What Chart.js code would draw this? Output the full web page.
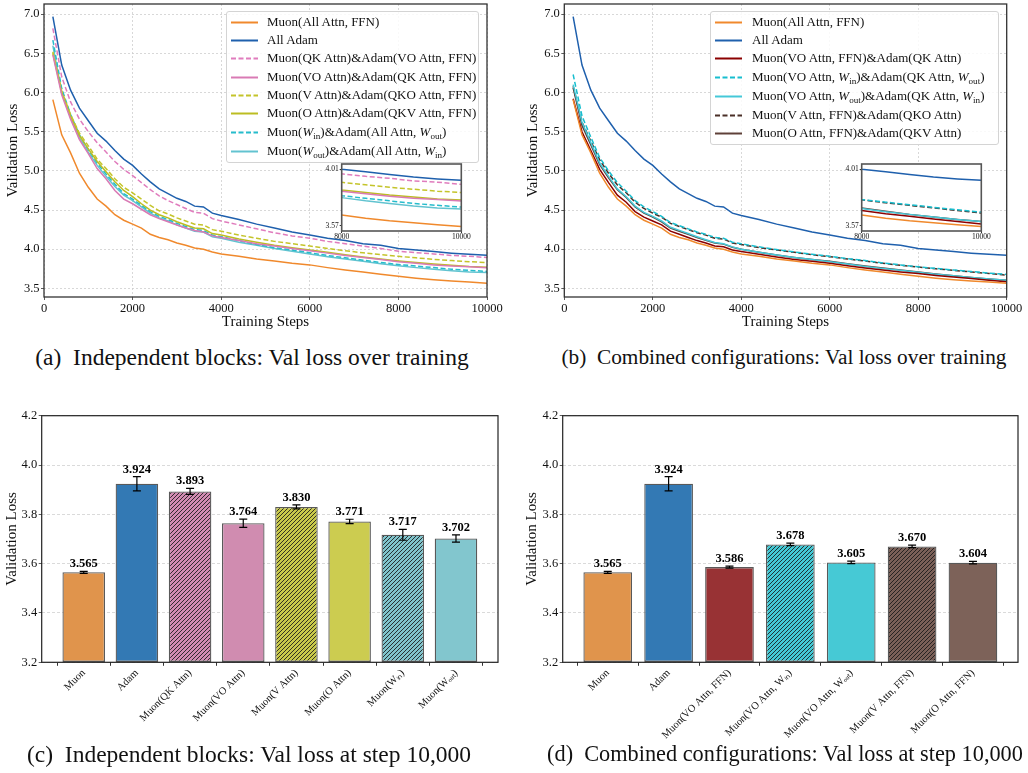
<!DOCTYPE html>
<html>
<head>
<meta charset="utf-8">
<script src="https://cdn.jsdelivr.net/npm/chart.js@4.4.1/dist/chart.umd.min.js"></script>
<style>
  body { margin: 0; background: #fff; width: 1028px; height: 773px; position: relative; overflow: hidden;
         font-family: 'Liberation Serif', 'Times New Roman', serif; color: #111; }
  canvas { position: absolute; }
  .legend { position: absolute; border: 1px solid #d4d4d4; border-radius: 3px; background: rgba(255,255,255,0.85); box-sizing: border-box; }
  .legend .row { position: absolute; left: 0; height: 18px; line-height: 18px; font-size: 13px; white-space: nowrap; }
  .legend svg { position: absolute; top: 8px; }
  .legend .txt { position: absolute; top: 0; }
  .cap { position: absolute; font-size: 23.5px; white-space: nowrap; transform: translate(-50%, -50%); }
  sub { font-size: 70%; vertical-align: -3px; line-height: 0; }
</style>
</head>
<body>
<canvas id="chartA" width="514" height="340" style="left:0;top:0"></canvas>
<canvas id="insetA" width="164" height="90" style="left:314px;top:156px"></canvas>
<div class="legend" id="legendA" style="left:226px;top:11px;width:253px;height:152px"></div>

<canvas id="chartB" width="510" height="340" style="left:518px;top:0"></canvas>
<canvas id="insetB" width="164" height="90" style="left:834px;top:156px"></canvas>
<div class="legend" id="legendB" style="left:710px;top:11px;width:289px;height:134px"></div>

<canvas id="chartC" width="514" height="373" style="left:0;top:400px"></canvas>
<canvas id="chartD" width="510" height="373" style="left:518px;top:400px"></canvas>

<div class="cap" style="left:252px;top:357px">(a)&nbsp; Independent blocks: Val loss over training</div>
<div class="cap" style="left:784px;top:357px;font-size:21.3px">(b)&nbsp; Combined configurations: Val loss over training</div>
<div class="cap" style="left:249px;top:754px">(c)&nbsp; Independent blocks: Val loss at step 10,000</div>
<div class="cap" style="left:785px;top:754px;font-size:22.3px">(d)&nbsp; Combined configurations: Val loss at step 10,000</div>

<script>
// training steps where validation loss was logged
const steps = [200, 400, 600, 800, 1000, 1200, 1400, 1600, 1800, 2000, 2200, 2400, 2600, 2800, 3000, 3200, 3400, 3600, 3800, 4000,
  4400, 4800, 5200, 5600, 6000, 6400, 6800, 7200, 7600, 8000, 8400, 8800, 9200, 9600, 10000];
const stepTicks = [0, 2000, 4000, 6000, 8000, 10000];
const lossTicks = [3.5, 4.0, 4.5, 5.0, 5.5, 6.0, 6.5, 7.0];
const insetStepTicks = [8000, 10000];
const insetLossTicks = [3.57, 4.01];

// (a) and (b) shared curves
const muonAll = [5.91, 5.46, 5.23, 4.97, 4.79, 4.64, 4.55, 4.44, 4.37, 4.32, 4.27, 4.19, 4.15, 4.12, 4.08, 4.05, 4.015, 4.00, 3.965, 3.94,
  3.91, 3.875, 3.85, 3.82, 3.80, 3.765, 3.735, 3.71, 3.68, 3.655, 3.63, 3.61, 3.595, 3.58, 3.565];
const allAdam = [6.97, 6.35, 6.03, 5.80, 5.64, 5.48, 5.38, 5.26, 5.15, 5.07, 4.96, 4.86, 4.77, 4.71, 4.65, 4.61, 4.55, 4.54, 4.46, 4.43,
  4.38, 4.32, 4.27, 4.22, 4.18, 4.14, 4.11, 4.07, 4.05, 4.01, 3.99, 3.97, 3.95, 3.935, 3.924];

// (a) independent blocks
const muonQK = [6.82, 6.20, 5.88, 5.66, 5.50, 5.36, 5.24, 5.12, 5.02, 4.94, 4.85, 4.76, 4.68, 4.62, 4.57, 4.52, 4.47, 4.46, 4.39, 4.36,
  4.31, 4.26, 4.21, 4.17, 4.14, 4.10, 4.07, 4.04, 4.01, 3.975, 3.955, 3.94, 3.92, 3.91, 3.893];
const muonVO = [6.48, 5.97, 5.66, 5.40, 5.22, 5.03, 4.90, 4.75, 4.64, 4.58, 4.51, 4.44, 4.39, 4.35, 4.31, 4.27, 4.24, 4.22, 4.17, 4.15,
  4.11, 4.07, 4.04, 4.01, 3.98, 3.95, 3.92, 3.895, 3.87, 3.84, 3.82, 3.80, 3.785, 3.775, 3.764];
const muonV = [6.52, 6.02, 5.72, 5.48, 5.32, 5.15, 5.03, 4.90, 4.79, 4.72, 4.64, 4.56, 4.49, 4.45, 4.40, 4.36, 4.32, 4.31, 4.25, 4.23,
  4.18, 4.14, 4.10, 4.07, 4.04, 4.01, 3.98, 3.955, 3.93, 3.909, 3.89, 3.87, 3.855, 3.84, 3.830];
const muonO = [6.50, 6.00, 5.70, 5.45, 5.28, 5.12, 4.99, 4.86, 4.75, 4.67, 4.58, 4.50, 4.44, 4.40, 4.35, 4.31, 4.27, 4.26, 4.20, 4.18,
  4.13, 4.09, 4.05, 4.02, 3.99, 3.96, 3.93, 3.90, 3.875, 3.85, 3.83, 3.81, 3.795, 3.78, 3.771];
const muonWin = [6.67, 6.05, 5.72, 5.46, 5.27, 5.10, 4.96, 4.83, 4.71, 4.64, 4.56, 4.48, 4.42, 4.38, 4.33, 4.29, 4.25, 4.24, 4.18, 4.16,
  4.11, 4.06, 4.02, 3.99, 3.955, 3.92, 3.89, 3.86, 3.83, 3.805, 3.785, 3.765, 3.745, 3.73, 3.717];
const muonWout = [6.60, 6.00, 5.68, 5.42, 5.24, 5.07, 4.93, 4.80, 4.69, 4.62, 4.54, 4.46, 4.40, 4.36, 4.31, 4.27, 4.23, 4.22, 4.16, 4.14,
  4.09, 4.05, 4.01, 3.975, 3.94, 3.905, 3.875, 3.845, 3.815, 3.79, 3.765, 3.745, 3.725, 3.71, 3.702];

// (b) combined configurations
const muonVOFFN = [5.92, 5.50, 5.26, 5.02, 4.85, 4.69, 4.60, 4.48, 4.41, 4.36, 4.31, 4.23, 4.19, 4.15, 4.11, 4.08, 4.04, 4.03, 3.99, 3.97,
  3.935, 3.90, 3.87, 3.845, 3.82, 3.79, 3.76, 3.735, 3.71, 3.69, 3.665, 3.645, 3.625, 3.605, 3.586];
const muonVOWin = [6.23, 5.70, 5.43, 5.17, 5.00, 4.85, 4.74, 4.62, 4.54, 4.48, 4.42, 4.34, 4.30, 4.26, 4.22, 4.19, 4.15, 4.14, 4.09, 4.07,
  4.03, 3.995, 3.965, 3.935, 3.91, 3.88, 3.855, 3.825, 3.80, 3.775, 3.755, 3.735, 3.715, 3.695, 3.678];
const muonVOWout = [6.10, 5.62, 5.36, 5.10, 4.93, 4.77, 4.67, 4.55, 4.47, 4.42, 4.36, 4.28, 4.24, 4.20, 4.16, 4.12, 4.085, 4.07, 4.03, 4.00,
  3.96, 3.925, 3.895, 3.87, 3.84, 3.81, 3.78, 3.755, 3.73, 3.705, 3.68, 3.66, 3.64, 3.62, 3.605];
const muonVFFN = [6.08, 5.62, 5.38, 5.14, 4.97, 4.82, 4.72, 4.60, 4.52, 4.46, 4.41, 4.33, 4.29, 4.25, 4.21, 4.18, 4.14, 4.13, 4.08, 4.06,
  4.02, 3.99, 3.96, 3.93, 3.905, 3.875, 3.85, 3.82, 3.795, 3.773, 3.75, 3.73, 3.71, 3.69, 3.670];
const muonOFFN = [6.06, 5.58, 5.33, 5.08, 4.91, 4.76, 4.66, 4.54, 4.46, 4.41, 4.35, 4.27, 4.23, 4.19, 4.15, 4.115, 4.08, 4.065, 4.025, 4.00,
  3.96, 3.925, 3.895, 3.87, 3.845, 3.815, 3.785, 3.76, 3.735, 3.71, 3.685, 3.66, 3.64, 3.62, 3.604];

// (c) final loss, independent blocks
const barNamesC = ['Muon', 'Adam', 'Muon(QK Attn)', 'Muon(VO Attn)', 'Muon(V Attn)', 'Muon(O Attn)', 'Muon(Wᵢₙ)', 'Muon(Wₒᵤₜ)'];
const barLossC = [3.565, 3.924, 3.893, 3.764, 3.830, 3.771, 3.717, 3.702];
const barErrC = [0.004, 0.029, 0.012, 0.017, 0.008, 0.009, 0.022, 0.015];

// (d) final loss, combined configurations
const barNamesD = ['Muon', 'Adam', 'Muon(VO Attn, FFN)', 'Muon(VO Attn, Wᵢₙ)', 'Muon(VO Attn, Wₒᵤₜ)', 'Muon(V Attn, FFN)', 'Muon(O Attn, FFN)'];
const barLossD = [3.565, 3.924, 3.586, 3.678, 3.605, 3.670, 3.604];
const barErrD = [0.004, 0.029, 0.004, 0.005, 0.005, 0.005, 0.005];

const barTicks = [3.2, 3.4, 3.6, 3.8, 4.0, 4.2];

const SERIF = "'Liberation Serif', 'Times New Roman', serif";
const DASH = [5, 2.5];

const seriesA = [
  { label: 'Muon(All Attn, FFN)', html: 'Muon(All Attn, FFN)', data: muonAll, color: '#f0892c', dash: [] },
  { label: 'All Adam', html: 'All Adam', data: allAdam, color: '#1f60ad', dash: [] },
  { label: 'Muon(QK Attn)&Adam(VO Attn, FFN)', html: 'Muon(QK Attn)&amp;Adam(VO Attn, FFN)', data: muonQK, color: '#e07cbd', dash: DASH },
  { label: 'Muon(VO Attn)&Adam(QK Attn, FFN)', html: 'Muon(VO Attn)&amp;Adam(QK Attn, FFN)', data: muonVO, color: '#d97ab4', dash: [] },
  { label: 'Muon(V Attn)&Adam(QKO Attn, FFN)', html: 'Muon(V Attn)&amp;Adam(QKO Attn, FFN)', data: muonV, color: '#c4c42a', dash: DASH },
  { label: 'Muon(O Attn)&Adam(QKV Attn, FFN)', html: 'Muon(O Attn)&amp;Adam(QKV Attn, FFN)', data: muonO, color: '#bcbd22', dash: [] },
  { label: 'Muon(W_in)&Adam(All Attn, W_out)', html: 'Muon(<i>W</i><sub>in</sub>)&amp;Adam(All Attn, <i>W</i><sub>out</sub>)', data: muonWin, color: '#26bccc', dash: DASH },
  { label: 'Muon(W_out)&Adam(All Attn, W_in)', html: 'Muon(<i>W</i><sub>out</sub>)&amp;Adam(All Attn, <i>W</i><sub>in</sub>)', data: muonWout, color: '#62c3d0', dash: [] }
];

const seriesB = [
  { label: 'Muon(All Attn, FFN)', html: 'Muon(All Attn, FFN)', data: muonAll, color: '#f0892c', dash: [] },
  { label: 'All Adam', html: 'All Adam', data: allAdam, color: '#1f60ad', dash: [] },
  { label: 'Muon(VO Attn, FFN)&Adam(QK Attn)', html: 'Muon(VO Attn, FFN)&amp;Adam(QK Attn)', data: muonVOFFN, color: '#8b0000', dash: [] },
  { label: 'Muon(VO Attn, W_in)&Adam(QK Attn, W_out)', html: 'Muon(VO Attn, <i>W</i><sub>in</sub>)&amp;Adam(QK Attn, <i>W</i><sub>out</sub>)', data: muonVOWin, color: '#17becf', dash: DASH },
  { label: 'Muon(VO Attn, W_out)&Adam(QK Attn, W_in)', html: 'Muon(VO Attn, <i>W</i><sub>out</sub>)&amp;Adam(QK Attn, <i>W</i><sub>in</sub>)', data: muonVOWout, color: '#45c8d8', dash: [] },
  { label: 'Muon(V Attn, FFN)&Adam(QKO Attn)', html: 'Muon(V Attn, FFN)&amp;Adam(QKO Attn)', data: muonVFFN, color: '#4a2f27', dash: DASH },
  { label: 'Muon(O Attn, FFN)&Adam(QKV Attn)', html: 'Muon(O Attn, FFN)&amp;Adam(QKV Attn)', data: muonOFFN, color: '#5e4038', dash: [] }
];

// box with all four spines, like matplotlib
const frame = {
  id: 'frame',
  afterDraw(chart, args, opts) {
    const { ctx, chartArea: a } = chart;
    ctx.save();
    ctx.strokeStyle = opts.color || '#333';
    ctx.lineWidth = opts.width || 1.2;
    ctx.strokeRect(a.left, a.top, a.right - a.left, a.bottom - a.top);
    ctx.restore();
  }
};

const whiteBg = {
  id: 'whiteBg',
  beforeDraw(chart) {
    const { ctx, chartArea: a } = chart;
    ctx.save();
    ctx.fillStyle = '#fff';
    ctx.fillRect(a.left, a.top, a.right - a.left, a.bottom - a.top);
    ctx.restore();
  }
};

// error bars plus the value printed above them
const errorBars = {
  id: 'errorBars',
  afterDatasetsDraw(chart, args, opts) {
    const { ctx, scales: { x, y } } = chart;
    ctx.save();
    ctx.strokeStyle = '#000';
    ctx.lineWidth = 1.2;
    ctx.fillStyle = '#000';
    ctx.font = `bold 12.5px ${SERIF}`;
    ctx.textAlign = 'center';
    ctx.textBaseline = 'bottom';
    opts.values.forEach((v, i) => {
      const px = x.getPixelForValue(i);
      const top = y.getPixelForValue(v + opts.errors[i]);
      const bot = y.getPixelForValue(v - opts.errors[i]);
      ctx.beginPath();
      ctx.moveTo(px, top); ctx.lineTo(px, bot);
      ctx.moveTo(px - 4, top); ctx.lineTo(px + 4, top);
      ctx.moveTo(px - 4, bot); ctx.lineTo(px + 4, bot);
      ctx.stroke();
      ctx.fillText(v.toFixed(3), px, top - 1);
    });
    ctx.restore();
  }
};

const fixW = (w) => (s) => { s.width = w; s.paddingTop = 0; s.paddingBottom = 0; };
const fixH = (h) => (s) => { s.height = h; s.paddingLeft = 0; s.paddingRight = 0; };

function toDatasets(series) {
  return series.map((s) => ({
    label: s.label,
    data: steps.map((st, i) => ({ x: st, y: s.data[i] })),
    borderColor: s.color,
    borderWidth: 1.5,
    borderDash: s.dash,
    pointRadius: 0,
    tension: 0,
    fill: false
  }));
}

function lineChart(id, series, box) {
  new Chart(document.getElementById(id), {
    type: 'line',
    data: { datasets: toDatasets(series) },
    options: {
      responsive: false,
      animation: false,
      events: [],
      layout: { autoPadding: false, padding: { top: box.top, right: box.right, left: 0, bottom: 0 } },
      plugins: { legend: { display: false }, tooltip: { enabled: false }, frame: { color: '#333', width: 1.3 } },
      scales: {
        x: {
          type: 'linear', min: 0, max: 10000,
          afterBuildTicks: (s) => { s.ticks = stepTicks.map((v) => ({ value: v })); },
          afterFit: fixH(box.xh),
          ticks: { font: { family: SERIF, size: 12.5 }, color: '#111', padding: 1, maxRotation: 0, callback: (v) => String(v) },
          grid: { color: '#cfcfcf', lineWidth: 0.8, tickColor: '#333', tickLength: 3 },
          border: { display: false, dash: [2, 2] },
          title: { display: true, text: 'Training Steps', font: { family: SERIF, size: 15 }, color: '#111', padding: { top: 0, bottom: 9 } }
        },
        y: {
          min: 3.39, max: 7.13,
          afterBuildTicks: (s) => { s.ticks = lossTicks.map((v) => ({ value: v })); },
          afterFit: fixW(box.yw),
          ticks: { font: { family: SERIF, size: 12.5 }, color: '#111', padding: 1.5, callback: (v) => v.toFixed(1) },
          grid: { color: '#cfcfcf', lineWidth: 0.8, tickColor: '#333', tickLength: 3 },
          border: { display: false, dash: [2, 2] },
          title: { display: true, text: 'Validation Loss', font: { family: SERIF, size: 15 }, color: '#111', padding: { top: box.tp, bottom: 0 } }
        }
      }
    },
    plugins: [frame]
  });
}

function insetChart(id, series) {
  new Chart(document.getElementById(id), {
    type: 'line',
    data: { datasets: toDatasets(series) },
    options: {
      responsive: false,
      animation: false,
      events: [],
      layout: { autoPadding: false, padding: { top: 8, right: 16.7, left: 0, bottom: 0 } },
      plugins: { legend: { display: false }, tooltip: { enabled: false }, frame: { color: '#555', width: 1.6 } },
      scales: {
        x: {
          type: 'linear', min: 8000, max: 10000,
          afterBuildTicks: (s) => { s.ticks = insetStepTicks.map((v) => ({ value: v })); },
          afterFit: fixH(15),
          ticks: { font: { family: SERIF, size: 7.5 }, color: '#111', padding: 0, maxRotation: 0, callback: (v) => String(v) },
          grid: { drawOnChartArea: false, tickColor: '#333', tickLength: 2 },
          border: { display: false }
        },
        y: {
          min: 3.531, max: 4.051,
          afterBuildTicks: (s) => { s.ticks = insetLossTicks.map((v) => ({ value: v })); },
          afterFit: fixW(27.7),
          ticks: { font: { family: SERIF, size: 7.5 }, color: '#111', padding: 1, callback: (v) => v.toFixed(2) },
          grid: { drawOnChartArea: false, tickColor: '#333', tickLength: 2 },
          border: { display: false }
        }
      }
    },
    plugins: [whiteBg, frame]
  });
}

function hatch(color) {
  const c = document.createElement('canvas');
  c.width = 4; c.height = 4;
  const g = c.getContext('2d');
  g.fillStyle = color;
  g.fillRect(0, 0, 4, 4);
  g.strokeStyle = 'rgba(25,25,25,0.85)';
  g.lineWidth = 1;
  g.beginPath();
  g.moveTo(-1, 5); g.lineTo(5, -1);
  g.moveTo(-1, 1); g.lineTo(1, -1);
  g.moveTo(3, 5); g.lineTo(5, 3);
  g.stroke();
  return g.createPattern(c, 'repeat');
}

function barChart(id, names, values, errors, colors, hatched, box) {
  const n = names.length;
  new Chart(document.getElementById(id), {
    type: 'bar',
    data: {
      datasets: [{
        data: values.map((v, i) => ({ x: i, y: v })),
        backgroundColor: colors.map((c, i) => (hatched[i] ? hatch(c) : c)),
        borderColor: '#595959',
        borderWidth: 1.3,
        borderSkipped: false,
        base: 3.2,
        barPercentage: 0.8,
        categoryPercentage: 1
      }]
    },
    options: {
      responsive: false,
      animation: false,
      events: [],
      layout: { autoPadding: false, padding: { top: box.top, right: box.right, left: 0, bottom: 0 } },
      plugins: { legend: { display: false }, tooltip: { enabled: false }, frame: { color: '#222', width: 1.2 },
        errorBars: { values, errors } },
      scales: {
        x: {
          type: 'linear', min: -box.margin, max: n - 1 + box.margin, offset: false,
          afterBuildTicks: (s) => { s.ticks = names.map((_, i) => ({ value: i })); },
          afterFit: fixH(box.xh),
          ticks: { font: { family: SERIF, size: 10.5 }, color: '#111', padding: 1, autoSkip: false, minRotation: 45, maxRotation: 45,
            callback: (v) => names[v] },
          grid: { drawOnChartArea: false, tickColor: '#333', tickLength: 3.5 },
          border: { display: false }
        },
        y: {
          min: 3.2, max: 4.2,
          afterBuildTicks: (s) => { s.ticks = barTicks.map((v) => ({ value: v })); },
          afterFit: fixW(box.yw),
          ticks: { font: { family: SERIF, size: 12.5 }, color: '#111', padding: 1.5, callback: (v) => v.toFixed(1) },
          grid: { color: '#d0d0d0', lineWidth: 0.8, tickColor: '#333', tickLength: 3 },
          border: { display: false, dash: [3, 2] },
          title: { display: true, text: 'Validation Loss', font: { family: SERIF, size: 15 }, color: '#111', padding: { top: box.tp, bottom: 0 } }
        }
      }
    },
    plugins: [frame, errorBars]
  });
}

function legend(id, series, rowTops, sampleLeft, textLeft) {
  const el = document.getElementById(id);
  series.forEach((s, i) => {
    const row = document.createElement('div');
    row.className = 'row';
    row.style.top = rowTops[i] + 'px';
    const dash = s.dash.length ? `stroke-dasharray="${s.dash.join(',')}"` : '';
    row.innerHTML = `<svg width="28" height="3" style="left:${sampleLeft}px"><line x1="0" y1="1.5" x2="27" y2="1.5" stroke="${s.color}" stroke-width="2" ${dash}/></svg>` +
      `<span class="txt" style="left:${textLeft}px">${s.html}</span>`;
    el.appendChild(row);
  });
}

lineChart('chartA', seriesA, { top: 4, right: 27, xh: 43, yw: 44, tp: 4.3 });
insetChart('insetA', seriesA);
legend('legendA', seriesA, [1, 19, 37.3, 55.6, 73.6, 92, 110.6, 130.3], 4, 40);

lineChart('chartB', seriesB, { top: 4, right: 21.3, xh: 43, yw: 46.3, tp: 6.3 });
insetChart('insetB', seriesB);
legend('legendB', seriesB, [1, 19, 37.3, 55.6, 75.3, 94, 112.3], 4, 41);

barChart('chartC', barNamesC, barLossC, barErrC,
  ['#e0944c', '#3379b4', '#d28bb2', '#d08cb0', '#c9c94a', '#cccc50', '#80c4cc', '#82c6ce'],
  [false, false, true, false, true, false, true, false],
  { top: 15.7, right: 16, xh: 110.7, yw: 41.7, tp: 2.7, margin: 0.79 });

barChart('chartD', barNamesD, barLossD, barErrD,
  ['#e0944c', '#3379b4', '#983234', '#44c9d5', '#46c9d5', '#7a6058', '#7d6259'],
  [false, false, false, true, false, true, false],
  { top: 15.7, right: 10, xh: 110.7, yw: 44.7, tp: 4.7, margin: 0.74 });
</script>
</body>
</html>
